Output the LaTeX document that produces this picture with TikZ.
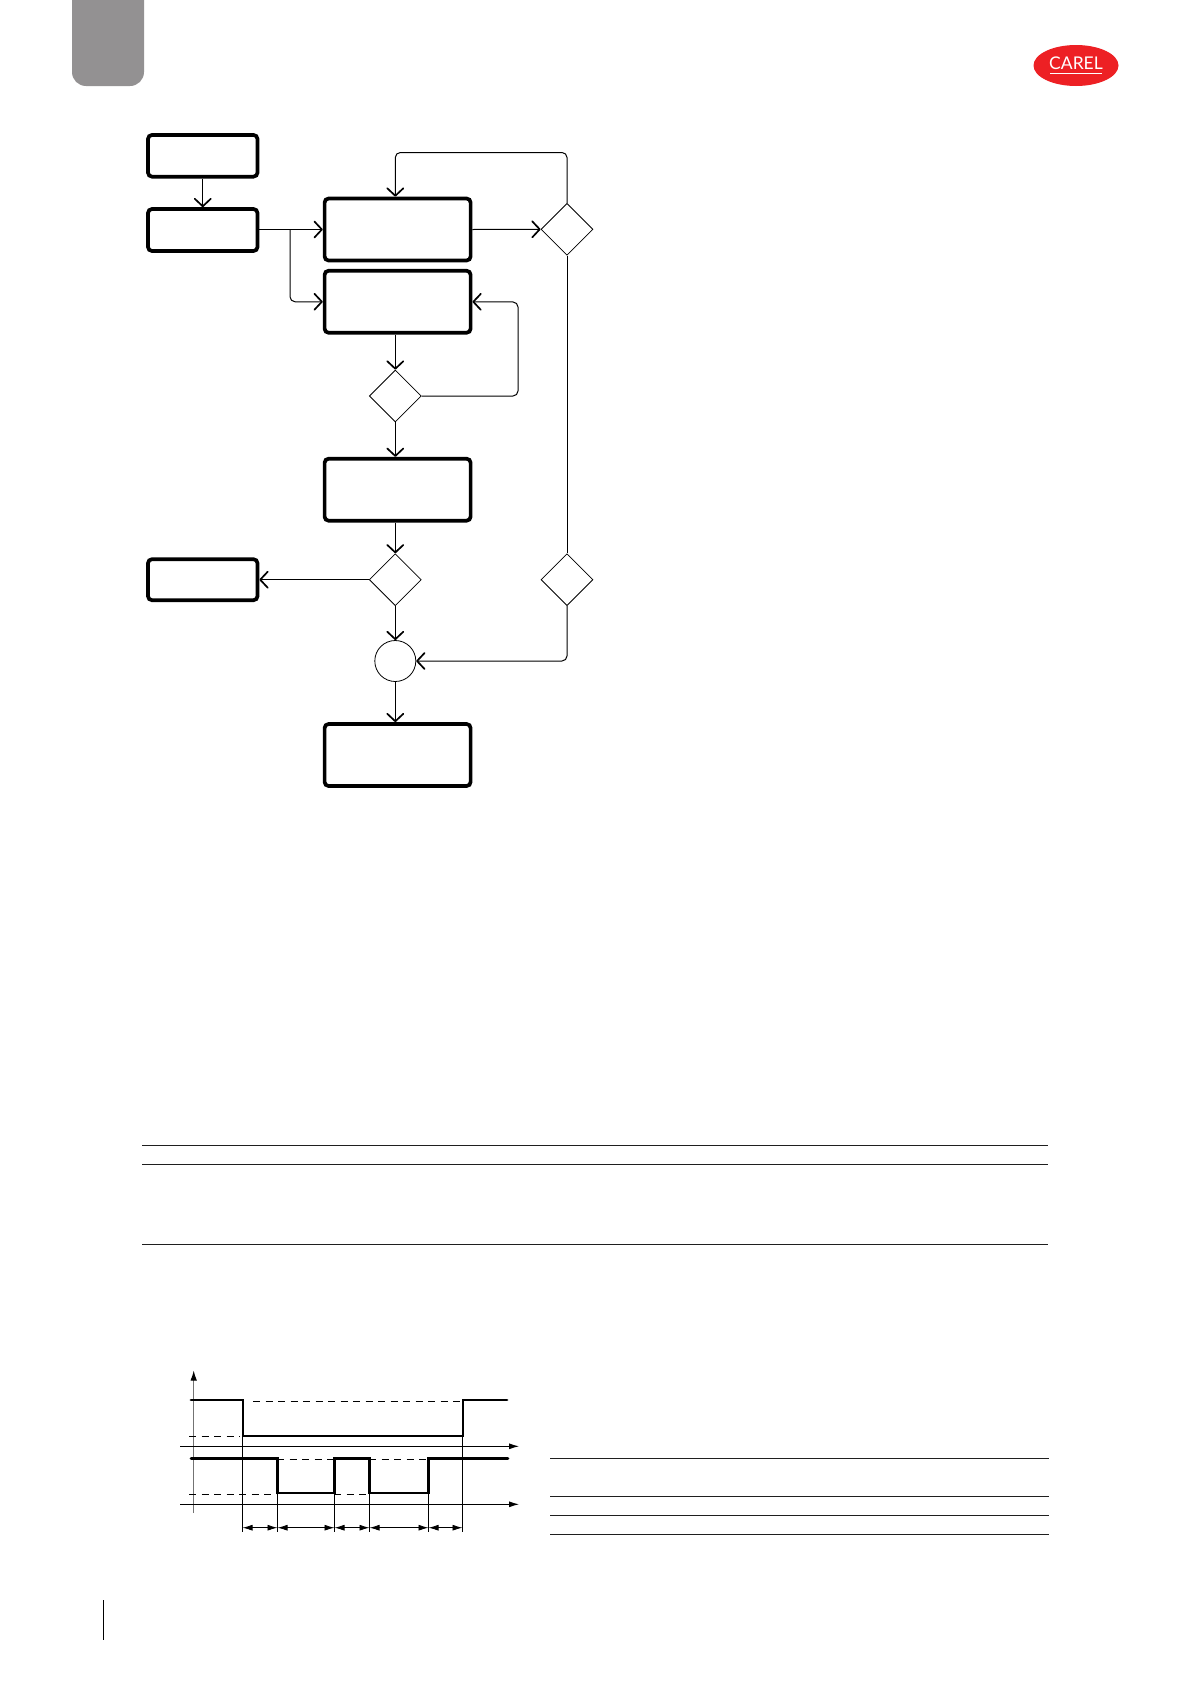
\documentclass[tikz,border=0pt]{standalone}
\usepackage{fontspec}
\setmainfont{Lato}
\usetikzlibrary{shapes.geometric,arrows.meta}
\definecolor{tabgrey}{HTML}{939192}
\definecolor{carelred}{HTML}{ED2024}
\tikzset{
  box/.style={draw=black,line width=3.7pt,rounded corners=4pt,minimum height=#1,inner sep=0pt,fill=white},
  smallbox/.style={box=#1,minimum width=109.5pt},
  largebox/.style={box=62pt,minimum width=146pt},
  decide/.style={draw=black,line width=0.8pt,shape=diamond,aspect=1,minimum width=52pt,minimum height=52pt,inner sep=0pt},
  junction/.style={draw=black,line width=0.8pt,shape=circle,minimum size=41pt,inner sep=0pt},
  link/.style={draw=black,line width=1pt,rounded corners=5pt,-{Straight Barb[length=7.5pt,width=16pt,line width=1.7pt,round]}},
  plainlink/.style={draw=black,line width=1pt,rounded corners=5pt},
  rulerule/.style={draw=black!88,line width=1pt},
  sig/.style={draw=black,line width=2.8pt,line cap=round,line join=miter},
  dashline/.style={draw=black,line width=0.9pt,dash pattern=on 7pt off 5.5pt},
  thinline/.style={draw=black,line width=0.8pt},
  chartaxis/.style={draw=black,line width=0.9pt,-{Latex[length=10pt,width=6pt]}},
  spanline/.style={draw=black,line width=0.8pt,{Latex[length=10pt,width=6pt]}-{Latex[length=10pt,width=6pt]}}
}
\begin{document}
\begin{tikzpicture}[x=1pt,y=-1pt]
\useasboundingbox (0,0) rectangle (1190,1684);
% tab
\fill[tabgrey] (72,0) [rounded corners=14pt] -- (72,86) -- (144,86) [sharp corners] -- (144,0) -- cycle;
% logo
\node[draw=none,fill=carelred,shape=ellipse,minimum width=85pt,minimum height=41pt,inner sep=0pt] (logo) at (1076,65.5) {};
\node[text=white,font=\fontsize{17.5}{18}\selectfont,inner sep=0pt] (logotext) at (1076,63.5) {CAREL};
\draw[white,line width=0.9pt] (1050,73.3) -- (1102,73.3);
% flow nodes
\node[smallbox=41.7pt] (b1) at (202.75,155.8) {};
\node[smallbox=42pt] (b2) at (202.75,230) {};
\node[largebox] (b3) at (397.6,229.5) {};
\node[largebox] (b4) at (397.6,301.75) {};
\node[largebox] (b5) at (397.6,489.7) {};
\node[smallbox=41pt] (b6) at (202.75,579.7) {};
\node[largebox] (b7) at (397.6,755) {};
\node[decide] (d1) at (567,229.3) {};
\node[decide] (d2) at (395.3,396) {};
\node[decide] (d3) at (395.3,579.7) {};
\node[decide] (d4) at (567,579.7) {};
\node[junction] (j) at (395.3,661) {};
\coordinate (top) at (567,152.5);
\coordinate (branch) at (290,229.5);
\coordinate (loop) at (518,302);
% connectors
\draw[link] (b1.south) -- (b2.north);
\draw[link] (b2.east |- b3.west) -- (b3.west);
\draw[link] (branch) -- (branch |- b4.west) -- (b4.west);
\draw[link] (b3.east) -- (d1.west);
\draw[link] (d1.north) -- (top) -- (d2 |- top) -- (d2 |- b3.north);
\draw[plainlink] (d1.south) -- (d4.north);
\draw[link] (d2 |- b4.south) -- (d2.north);
\draw[link] (d2.east) -- (loop |- d2.east) -- (loop) -- (b4.east);
\draw[link] (d2.south) -- (d2 |- b5.north);
\draw[link] (d2 |- b5.south) -- (d3.north);
\draw[link] (d3.west) -- (b6.east);
\draw[link] (d3.south) -- (j.north);
\draw[link] (d4.south) -- (d4 |- j.east) -- (j.east);
\draw[link] (j.south) -- (j |- b7.north);
% table rules
\draw[rulerule] (142,1145.3) -- (1047.5,1145.3);
\draw[rulerule] (142,1164.3) -- (1047.5,1164.3);
\draw[rulerule] (142,1244.3) -- (1047.5,1244.3);
\draw[rulerule] (550,1458.3) -- (1048.5,1458.3);
\draw[rulerule] (550,1496.3) -- (1048.5,1496.3);
\draw[rulerule] (550,1515.3) -- (1048.5,1515.3);
\draw[rulerule] (550,1534.3) -- (1048.5,1534.3);
% page footer mark
\draw[draw=black,line width=0.8pt] (103.6,1600) -- (103.6,1640);
% timing chart
\draw[draw=black!55,line width=1pt,-{Latex[length=10pt,width=6.5pt,black]}] (193.7,1513) -- (193.7,1370.5);
\draw[chartaxis] (180,1446.3) -- (519,1446.3);
\draw[chartaxis] (180,1504.3) -- (519,1504.3);
\draw[dashline] (253,1401) -- (462,1401);
\draw[dashline] (189,1436.5) -- (240,1436.5);
\draw[dashline] (277,1459) -- (334,1459);
\draw[dashline] (369,1459) -- (428,1459);
\draw[dashline] (189,1494.3) -- (277,1494.3);
\draw[dashline] (334,1494.3) -- (369,1494.3);
\foreach \xx/\yy in {242.5/1400,277.5/1459,334.5/1459,369.5/1459,428.5/1459,462.5/1400}
  \draw[thinline] (\xx,\yy) -- (\xx,1531.5);
\draw[sig] (191,1400) -- (243,1400) -- (243,1436) -- (463,1436) -- (463,1400) -- (507,1400);
\draw[sig] (191,1458.7) -- (277.5,1458.7) -- (277.5,1493) -- (334.5,1493) -- (334.5,1458.7) -- (369.5,1458.7) -- (369.5,1493) -- (428.5,1493) -- (428.5,1458.7) -- (508,1458.7);
\draw[spanline] (242.5,1527.7) -- (277.5,1527.7);
\draw[spanline] (277.5,1527.7) -- (334.5,1527.7);
\draw[spanline] (334.5,1527.7) -- (369.5,1527.7);
\draw[spanline] (369.5,1527.7) -- (428.5,1527.7);
\draw[spanline] (428.5,1527.7) -- (462.5,1527.7);
\end{tikzpicture}
\end{document}
